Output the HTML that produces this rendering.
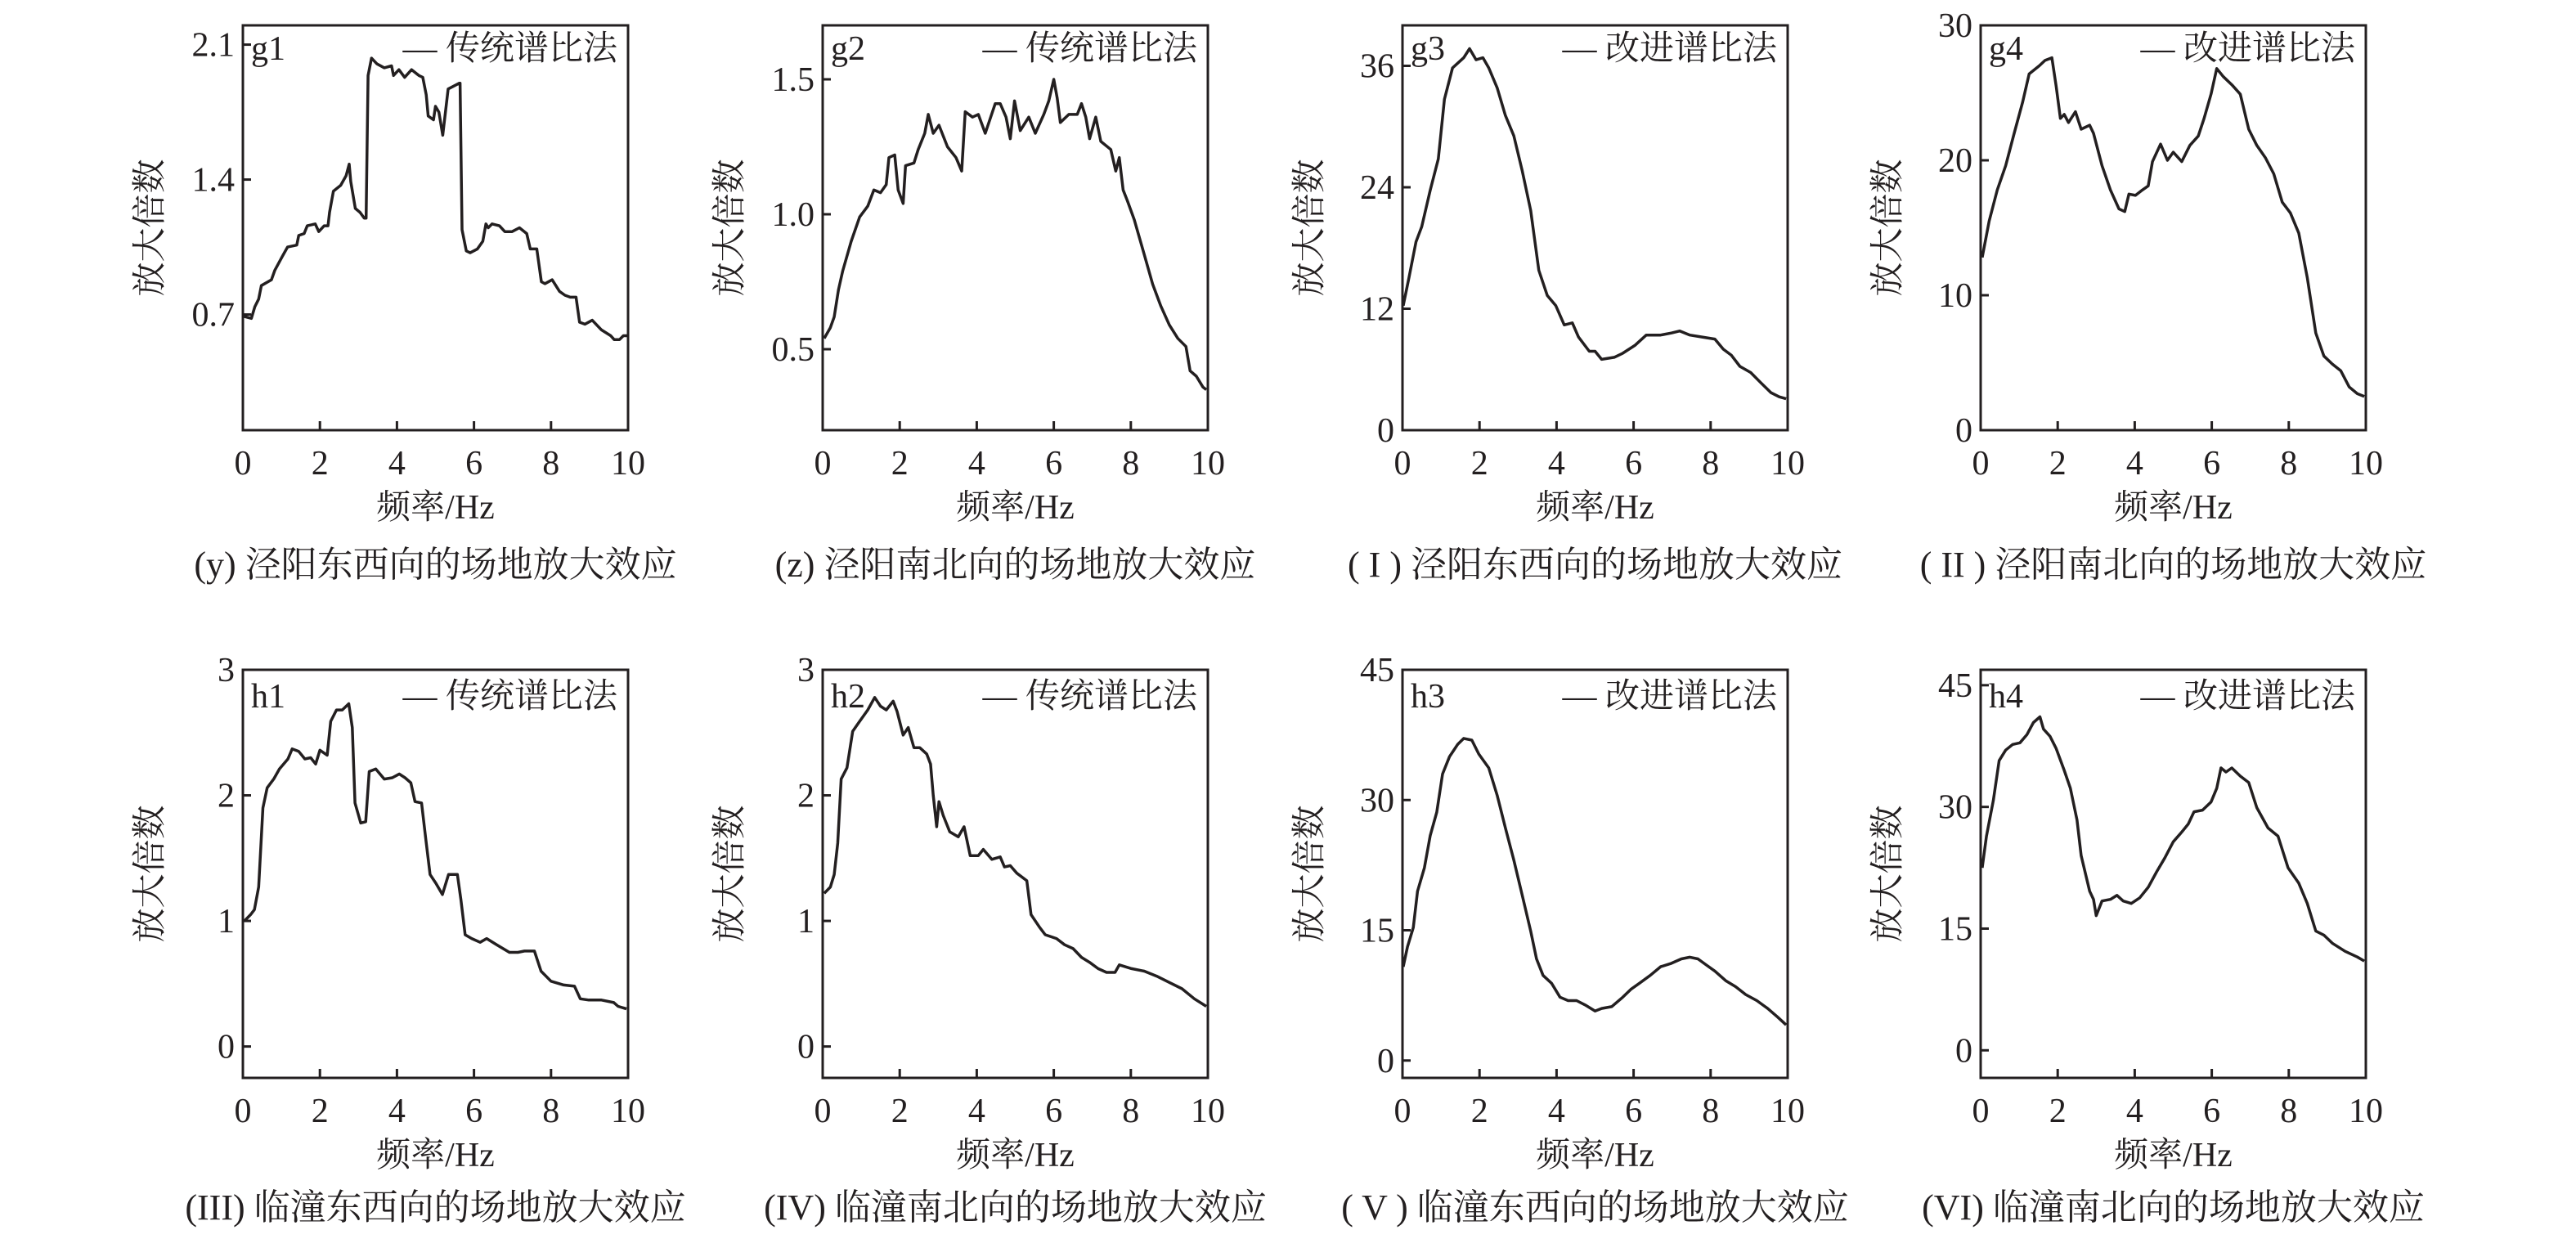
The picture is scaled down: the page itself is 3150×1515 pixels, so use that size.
<!DOCTYPE html>
<html><head><meta charset="utf-8">
<style>
html,body{margin:0;padding:0;background:#fff;}
svg{display:block;}
text{font-family:"Liberation Serif","Noto Serif CJK SC",serif;fill:#231f20;}
</style></head>
<body>
<svg id="fig" width="3150" height="1515" viewBox="0 0 3150 1515" xmlns="http://www.w3.org/2000/svg"></svg>
<script>
// ---- data ----
const g1x=[0.03,0.22,0.31,0.41,0.48,0.74,0.83,1.02,1.16,1.40,1.45,1.59,1.67,1.88,1.97,2.11,2.21,2.25,2.35,2.54,2.68,2.76,2.80,2.92,3.04,3.15,3.20,3.25,3.34,3.48,3.67,3.86,3.91,4.05,4.20,4.38,4.57,4.67,4.76,4.81,4.95,5.00,5.09,5.19,5.33,5.62,5.64,5.69,5.80,5.90,6.09,6.23,6.31,6.37,6.47,6.66,6.80,6.99,7.18,7.37,7.46,7.63,7.75,7.84,8.03,8.22,8.36,8.50,8.65,8.74,8.88,9.07,9.31,9.55,9.64,9.78,9.88,9.97];
const g1y=[0.69,0.68,0.74,0.78,0.85,0.88,0.93,1.00,1.05,1.06,1.11,1.12,1.16,1.17,1.13,1.16,1.16,1.23,1.34,1.37,1.42,1.48,1.39,1.25,1.23,1.20,1.20,1.94,2.03,2.00,1.98,1.99,1.94,1.97,1.93,1.97,1.94,1.93,1.84,1.73,1.71,1.78,1.75,1.63,1.87,1.90,1.90,1.14,1.03,1.02,1.04,1.08,1.17,1.15,1.17,1.16,1.13,1.13,1.15,1.12,1.04,1.04,0.87,0.86,0.88,0.82,0.80,0.79,0.79,0.66,0.65,0.67,0.62,0.59,0.57,0.57,0.59,0.59];
const g2x=[0.04,0.2,0.3,0.41,0.52,0.74,0.96,1.17,1.33,1.5,1.65,1.72,1.87,1.96,2.09,2.15,2.37,2.48,2.65,2.74,2.87,3.02,3.24,3.46,3.61,3.7,3.89,4.04,4.22,4.48,4.61,4.76,4.87,4.98,5.13,5.35,5.52,5.74,5.87,6.0,6.09,6.17,6.39,6.61,6.72,6.83,6.93,7.09,7.22,7.48,7.61,7.7,7.8,7.91,8.09,8.35,8.57,8.78,9.0,9.22,9.43,9.54,9.7,9.87,9.96];
const g2y=[0.54,0.58,0.62,0.72,0.79,0.90,0.99,1.03,1.09,1.08,1.11,1.21,1.22,1.09,1.04,1.18,1.19,1.24,1.30,1.37,1.30,1.33,1.25,1.21,1.16,1.38,1.36,1.37,1.30,1.41,1.41,1.36,1.28,1.42,1.31,1.36,1.30,1.37,1.42,1.50,1.43,1.34,1.37,1.37,1.41,1.36,1.28,1.36,1.27,1.24,1.16,1.21,1.09,1.05,0.98,0.85,0.74,0.66,0.59,0.54,0.51,0.42,0.40,0.36,0.35];
const g3x=[0.02,0.17,0.35,0.5,0.72,0.93,1.09,1.3,1.59,1.74,1.91,2.09,2.24,2.46,2.67,2.89,3.11,3.33,3.54,3.76,3.98,4.2,4.41,4.57,4.85,5.0,5.17,5.5,5.72,6.04,6.33,6.7,6.98,7.2,7.46,7.78,8.11,8.33,8.54,8.76,9.04,9.3,9.57,9.78,9.96];
const g3y=[12.3,15.1,18.6,20.1,23.7,26.8,32.7,35.8,36.8,37.7,36.6,36.8,35.8,33.8,31.1,29.1,25.6,21.7,15.8,13.3,12.3,10.4,10.6,9.2,7.8,7.8,7.0,7.2,7.6,8.4,9.4,9.4,9.6,9.8,9.4,9.2,9.0,8.0,7.4,6.3,5.7,4.7,3.7,3.3,3.1];
const g4x=[0.04,0.22,0.43,0.65,0.87,1.09,1.26,1.52,1.67,1.85,1.96,2.07,2.17,2.28,2.46,2.61,2.83,2.93,3.15,3.37,3.59,3.74,3.85,4.02,4.2,4.35,4.46,4.67,4.85,5.0,5.22,5.43,5.65,5.8,5.98,6.13,6.3,6.52,6.74,6.96,7.17,7.39,7.61,7.83,8.04,8.26,8.48,8.7,8.91,9.13,9.35,9.57,9.78,9.96];
const g4y=[12.8,15.5,17.8,19.6,22.0,24.3,26.4,27.0,27.4,27.6,25.5,23.1,23.4,22.8,23.6,22.3,22.6,22.0,19.6,17.8,16.4,16.2,17.5,17.4,17.8,18.1,19.9,21.2,20.0,20.6,19.9,21.1,21.8,23.1,24.9,26.8,26.2,25.6,24.9,22.3,21.1,20.2,19.0,16.9,16.1,14.6,11.3,7.2,5.5,4.9,4.4,3.2,2.7,2.5];
const h1x=[0.04,0.2,0.3,0.41,0.52,0.63,0.8,0.95,1.17,1.28,1.45,1.61,1.76,1.89,2.0,2.19,2.28,2.43,2.58,2.75,2.84,2.91,3.06,3.19,3.28,3.45,3.67,3.88,4.06,4.21,4.36,4.47,4.64,4.75,4.86,5.01,5.18,5.34,5.57,5.66,5.77,5.94,6.16,6.33,6.59,6.92,7.14,7.31,7.57,7.74,8.0,8.33,8.61,8.76,8.98,9.31,9.63,9.74,9.96];
const h1y=[1.0,1.05,1.09,1.27,1.9,2.06,2.13,2.21,2.29,2.37,2.35,2.29,2.3,2.25,2.36,2.32,2.59,2.68,2.68,2.73,2.54,1.94,1.78,1.79,2.19,2.21,2.13,2.14,2.17,2.14,2.1,1.95,1.94,1.65,1.37,1.3,1.21,1.37,1.37,1.17,0.89,0.86,0.83,0.86,0.81,0.75,0.75,0.76,0.76,0.6,0.52,0.49,0.48,0.38,0.37,0.37,0.35,0.32,0.3];
const h2x=[0.04,0.2,0.3,0.39,0.48,0.63,0.78,0.96,1.17,1.35,1.5,1.65,1.83,1.93,2.09,2.22,2.37,2.52,2.7,2.8,2.87,2.96,3.02,3.13,3.3,3.52,3.67,3.83,4.04,4.17,4.39,4.61,4.72,4.87,5.04,5.3,5.41,5.63,5.78,6.07,6.28,6.5,6.72,6.93,7.15,7.37,7.59,7.7,8.02,8.35,8.67,9.0,9.33,9.65,9.96];
const h2y=[1.22,1.27,1.37,1.62,2.13,2.22,2.51,2.59,2.68,2.78,2.71,2.68,2.75,2.67,2.48,2.54,2.38,2.38,2.33,2.25,2.0,1.75,1.95,1.84,1.71,1.67,1.75,1.52,1.52,1.57,1.49,1.51,1.43,1.44,1.38,1.32,1.05,0.95,0.89,0.86,0.81,0.78,0.71,0.67,0.62,0.59,0.59,0.65,0.62,0.6,0.56,0.51,0.46,0.38,0.32];
const h3x=[0.02,0.13,0.28,0.39,0.57,0.72,0.89,1.04,1.22,1.43,1.59,1.8,1.98,2.24,2.46,2.67,2.89,3.11,3.33,3.48,3.65,3.87,4.09,4.3,4.52,4.74,5.0,5.17,5.43,5.72,5.93,6.15,6.43,6.7,6.98,7.24,7.46,7.67,7.89,8.11,8.39,8.65,8.91,9.2,9.48,9.74,9.96];
const h3y=[10.8,13.1,15.3,19.5,22.2,25.9,28.6,33.0,35.0,36.4,37.1,36.9,35.3,33.7,30.5,26.8,23.1,19.0,14.9,11.7,9.8,8.9,7.3,6.9,6.9,6.4,5.7,6.0,6.2,7.3,8.2,8.9,9.8,10.8,11.2,11.7,11.9,11.7,11.0,10.3,9.2,8.5,7.6,6.9,6.0,5.0,4.1];
const h4x=[0.04,0.15,0.33,0.48,0.65,0.83,1.02,1.2,1.37,1.54,1.63,1.8,1.96,2.17,2.33,2.5,2.61,2.83,2.93,3.0,3.15,3.37,3.54,3.7,3.91,4.13,4.35,4.57,4.78,5.0,5.22,5.39,5.54,5.76,5.98,6.13,6.24,6.37,6.52,6.74,6.96,7.17,7.46,7.72,7.98,8.26,8.48,8.7,8.91,9.13,9.46,9.78,9.96];
const h4y=[22.5,26.4,30.8,35.7,37.0,37.7,37.9,38.9,40.4,41.1,39.6,38.7,37.2,34.5,32.3,28.4,24.0,19.6,18.6,16.6,18.4,18.6,19.1,18.4,18.1,18.8,20.1,22.0,23.7,25.7,26.9,27.9,29.4,29.6,30.6,32.3,34.8,34.3,34.8,33.8,33.0,29.9,27.4,26.4,22.5,20.6,18.1,14.7,14.2,13.2,12.2,11.5,11.0];
const xTickLabels=["0","2","4","6","8","10"];
const xTicks=[0,2,4,6,8,10];
const g1Ticks=[0.7,1.4,2.1], g1TickLabels=["0.7","1.4","2.1"];
const g2Ticks=[0.5,1.0,1.5], g2TickLabels=["0.5","1.0","1.5"];
const g3Ticks=[0,12,24,36], g3TickLabels=["0","12","24","36"];
const g4Ticks=[0,10,20,30], g4TickLabels=["0","10","20","30"];
const h1Ticks=[0,1,2,3], h1TickLabels=["0","1","2","3"];
const h2Ticks=[0,1,2,3], h2TickLabels=["0","1","2","3"];
const h3Ticks=[0,15,30,45], h3TickLabels=["0","15","30","45"];
const h4Ticks=[0,15,30,45], h4TickLabels=["0","15","30","45"];
const panelIds=["g1","g2","g3","g4","h1","h2","h3","h4"];
const legendTexts=["传统谱比法","传统谱比法","改进谱比法","改进谱比法","传统谱比法","传统谱比法","改进谱比法","改进谱比法"];
const captions=["(y) 泾阳东西向的场地放大效应","(z) 泾阳南北向的场地放大效应","( I ) 泾阳东西向的场地放大效应","( II ) 泾阳南北向的场地放大效应","(III) 临潼东西向的场地放大效应","(IV) 临潼南北向的场地放大效应","( V ) 临潼东西向的场地放大效应","(VI) 临潼南北向的场地放大效应"];

const NS="http://www.w3.org/2000/svg";
const svg=document.getElementById('fig');
function mk(tag,attrs,parent){const e=document.createElementNS(NS,tag);for(const k in attrs)e.setAttribute(k,attrs[k]);(parent||svg).appendChild(e);return e;}

const panels=[
 {xs:g1x,ys:g1y,ticks:g1Ticks,tl:g1TickLabels,ymin:0.1,ymax:2.2,left:297,top:31,bottom:526},
 {xs:g2x,ys:g2y,ticks:g2Ticks,tl:g2TickLabels,ymin:0.2,ymax:1.7,left:1006,top:31,bottom:526},
 {xs:g3x,ys:g3y,ticks:g3Ticks,tl:g3TickLabels,ymin:0,ymax:40,left:1715,top:31,bottom:526},
 {xs:g4x,ys:g4y,ticks:g4Ticks,tl:g4TickLabels,ymin:0,ymax:30,left:2422,top:31,bottom:526},
 {xs:h1x,ys:h1y,ticks:h1Ticks,tl:h1TickLabels,ymin:-0.25,ymax:3,left:297,top:819,bottom:1318},
 {xs:h2x,ys:h2y,ticks:h2Ticks,tl:h2TickLabels,ymin:-0.25,ymax:3,left:1006,top:819,bottom:1318},
 {xs:h3x,ys:h3y,ticks:h3Ticks,tl:h3TickLabels,ymin:-2,ymax:45,left:1715,top:819,bottom:1318},
 {xs:h4x,ys:h4y,ticks:h4Ticks,tl:h4TickLabels,ymin:-3.4,ymax:46.9,left:2422,top:819,bottom:1318}
];
const W=471;
panels.forEach((p,i)=>{
  const g=mk('g',{});
  
  
  const L=p.left,R=p.left+W,T=p.top,B=p.bottom;
  const sx=v=>L+v/10*W;
  const sy=v=>B-(v-p.ymin)/(p.ymax-p.ymin)*(B-T);
  const frame=mk('rect',{x:L,y:T,width:W,height:B-T,fill:'none',stroke:'#231f20','stroke-width':3},g);
  
  
  xTicks.forEach((t,j)=>{
    const tk=mk('line',{x1:sx(t),x2:sx(t),y1:B,y2:B-11,stroke:'#231f20','stroke-width':3},g);
    
    
    const lb=mk('text',{x:sx(t),y:B+54,'font-size':42,'text-anchor':'middle'},g);
    lb.textContent=xTickLabels[j];
    
    
  });
  p.ticks.forEach((t,j)=>{
    const tk=mk('line',{x1:L,x2:L+10,y1:sy(t),y2:sy(t),stroke:'#231f20','stroke-width':3},g);
    
    
    const lb=mk('text',{x:L-10,y:sy(t)+14,'font-size':42,'text-anchor':'end'},g);
    lb.textContent=p.tl[j];
    
    
  });
  const xl=mk('text',{x:L+W/2,y:B+108,'font-size':42,'text-anchor':'middle'},g);
  xl.textContent='频率/Hz';
  
  
  const cy=(T+B)/2, cx=L-115;
  const yl=mk('text',{x:cx,y:cy+15,'font-size':42,'text-anchor':'middle',transform:`rotate(-90 ${cx} ${cy})`},g);
  yl.textContent='放大倍数';
  
  
  const pl=mk('text',{x:L+10,y:T+(i<4?42:46),'font-size':42},g);
  pl.textContent=panelIds[i];
  
  
  const lg=mk('text',{x:L+458,y:T+(i<4?42:46),'font-size':42,'text-anchor':'end'},g);
  lg.textContent='— '+legendTexts[i];
  
  
  let d='';
  p.xs.forEach((x,k)=>{d+=(k?'L':'M')+sx(x).toFixed(1)+' '+sy(p.ys[k]).toFixed(1);});
  const ln=mk('path',{d:d,fill:'none',stroke:'#231f20','stroke-width':3.5,'stroke-linejoin':'round'},g);
  
  
  const cp=mk('text',{x:L+W/2,y:B+(i<4?179:173),'font-size':44,'text-anchor':'middle'},g);
  cp.textContent=captions[i];
  
  
});
</script>
</body></html>
